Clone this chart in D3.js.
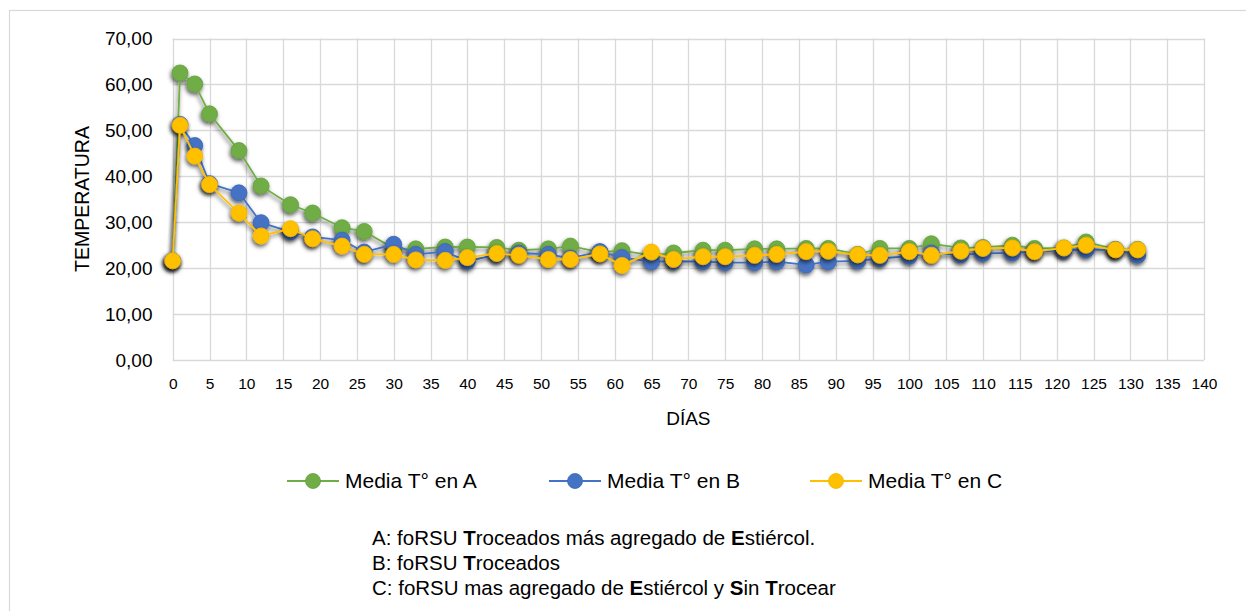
<!DOCTYPE html>
<html>
<head>
<meta charset="utf-8">
<script src="https://cdn.jsdelivr.net/npm/d3@7"></script>
<style>
  html, body { margin: 0; padding: 0; background: #fff; }
  svg { display: block; font-family: "Liberation Sans", Arial, sans-serif; }
</style>
</head>
<body>
<svg id="chart" width="1246" height="611"></svg>
<script>
const days = [0,1,3,5,9,12,16,19,23,26,30,33,37,40,44,47,51,54,58,61,65,68,72,75,79,82,86,89,93,96,100,103,107,110,114,117,121,124,128,131];
const mediaA = [21.6,62.5,60.1,53.6,45.6,37.9,33.8,32.0,28.8,28.0,24.3,24.2,24.6,24.6,24.5,23.9,24.2,24.8,23.5,23.8,22.8,23.3,23.9,23.9,24.2,24.2,24.3,24.3,23.0,24.3,24.3,25.3,24.4,24.5,25.0,24.3,24.4,25.7,24.1,24.1];
const mediaB = [21.6,51.3,46.7,38.4,36.4,29.9,27.9,26.8,26.1,23.5,25.2,23.0,23.6,21.5,23.0,23.3,23.0,22.2,23.6,22.3,21.4,21.5,21.4,21.2,21.2,21.4,20.7,21.4,21.6,22.1,22.6,23.3,22.9,23.2,23.3,23.6,23.9,24.0,24.0,22.8];
const mediaC = [21.6,51.1,44.4,38.2,32.0,27.0,28.6,26.4,24.8,23.0,23.0,21.8,21.7,22.3,23.2,22.8,21.9,21.9,23.1,20.6,23.5,21.9,22.5,22.5,22.8,23.0,23.6,23.7,22.9,22.8,23.6,22.8,23.7,24.3,24.4,23.6,24.4,25.0,24.0,24.0];
const seriesNames = ["Media T° en A", "Media T° en B", "Media T° en C"];
const seriesColors = ["#70AD47", "#4472C4", "#FFC000"];
const seriesStroke = ["#62A03A", "#3A66B5", "#F2B500"];
const xTicks = d3.range(0, 141, 5);
const yTicks = d3.range(0, 71, 10);
const xTitle = "DÍAS";
const yTitle = "TEMPERATURA";
const notes = [
  [["A: foRSU ", false], ["T", true], ["roceados más agregado de ", false], ["E", true], ["stiércol.", false]],
  [["B: foRSU ", false], ["T", true], ["roceados", false]],
  [["C: foRSU mas agregado de ", false], ["E", true], ["stiércol y ", false], ["S", true], ["in ", false], ["T", true], ["rocear", false]]
];

const svg = d3.select("#chart");
const defs = svg.append("defs");
const f = defs.append("filter").attr("id", "shadow").attr("x", "-50%").attr("y", "-50%").attr("width", "200%").attr("height", "200%");
f.append("feDropShadow").attr("dx", -1).attr("dy", 2.5).attr("stdDeviation", 2).attr("flood-color", "#000").attr("flood-opacity", 0.65);

// outer border
svg.append("rect").attr("x", 9.5).attr("y", 10.5).attr("width", 1245).attr("height", 610)
  .attr("fill", "none").attr("stroke", "#d9d9d9").attr("stroke-width", 1.2);

const x = d3.scaleLinear().domain([0, 140]).range([172.7, 1204]);
const y = d3.scaleLinear().domain([0, 70]).range([360, 38.5]);

const grid = svg.append("g");
grid.selectAll("line.h").data(yTicks).join("line")
  .attr("x1", x(0)).attr("x2", x(140))
  .attr("y1", d => Math.round(y(d)) + 0.5).attr("y2", d => Math.round(y(d)) + 0.5)
  .attr("stroke", "#d9d9d9").attr("stroke-width", 1.3);
grid.selectAll("line.v").data(xTicks).join("line")
  .attr("y1", y(0)).attr("y2", y(70))
  .attr("x1", d => Math.round(x(d)) + 0.5).attr("x2", d => Math.round(x(d)) + 0.5)
  .attr("stroke", "#d9d9d9").attr("stroke-width", 1.3);

// axes (labels only)
const xAxis = d3.axisBottom(x).tickValues(xTicks).tickSize(0).tickPadding(0).tickFormat(d3.format("d"));
const gx = svg.append("g").attr("transform", `translate(0,${y(0) + 24})`).call(xAxis);
gx.select(".domain").remove();
gx.selectAll("text").attr("font-size", 15.5).attr("fill", "#000").attr("font-family", "Liberation Sans, Arial, sans-serif").attr("dy", "0.35em");

const yFmt = d => d3.format(".2f")(d).replace(".", ",");
const yAxis = d3.axisLeft(y).tickValues(yTicks).tickSize(0).tickPadding(0).tickFormat(yFmt);
const gy = svg.append("g").attr("transform", `translate(152.5,0)`).call(yAxis);
gy.select(".domain").remove();
gy.selectAll("text").attr("font-size", 19).attr("fill", "#000").attr("font-family", "Liberation Sans, Arial, sans-serif");

svg.append("text").text(xTitle).attr("x", (x(0) + x(140)) / 2).attr("y", 418).attr("dy", "0.35em")
  .attr("text-anchor", "middle").attr("font-size", 19).attr("fill", "#000");
svg.append("text").text(yTitle).attr("transform", "translate(82,199) rotate(-90)").attr("dy", "0.35em")
  .attr("text-anchor", "middle").attr("font-size", 19.5).attr("fill", "#000");

// series
const allSeries = [mediaA, mediaB, mediaC];
const line = d3.line().x((d, i) => x(days[i])).y(d => y(d));
allSeries.forEach((vals, s) => {
  const g = svg.append("g").attr("filter", "url(#shadow)");
  g.append("path").datum(vals).attr("d", line).attr("fill", "none")
    .attr("stroke", seriesColors[s]).attr("stroke-width", 1.8);
  g.selectAll("circle").data(vals).join("circle")
    .attr("cx", (d, i) => x(days[i])).attr("cy", d => y(d)).attr("r", 8)
    .attr("fill", seriesColors[s]).attr("stroke", seriesStroke[s]).attr("stroke-width", 0.8);
});

// legend
const legendX = [287, 549, 810];
const legendY = 481;
seriesNames.forEach((name, s) => {
  const g = svg.append("g");
  g.append("line").attr("x1", legendX[s]).attr("x2", legendX[s] + 52).attr("y1", legendY).attr("y2", legendY)
    .attr("stroke", seriesColors[s]).attr("stroke-width", 1.8);
  g.append("circle").attr("cx", legendX[s] + 26).attr("cy", legendY).attr("r", 7.5)
    .attr("fill", seriesColors[s]).attr("stroke", seriesStroke[s]).attr("stroke-width", 0.8);
  g.append("text").text(name).attr("x", legendX[s] + 58).attr("y", legendY).attr("dy", "0.35em")
    .attr("font-size", 21).attr("fill", "#000");
});

// notes
const notesY = [538, 563, 588];
notes.forEach((parts, i) => {
  const t = svg.append("text").attr("x", 372).attr("y", notesY[i]).attr("dy", "0.35em")
    .attr("font-size", 20.5).attr("fill", "#000");
  parts.forEach(p => t.append("tspan").text(p[0]).attr("font-weight", p[1] ? "bold" : "normal"));
});
</script>
</body>
</html>
